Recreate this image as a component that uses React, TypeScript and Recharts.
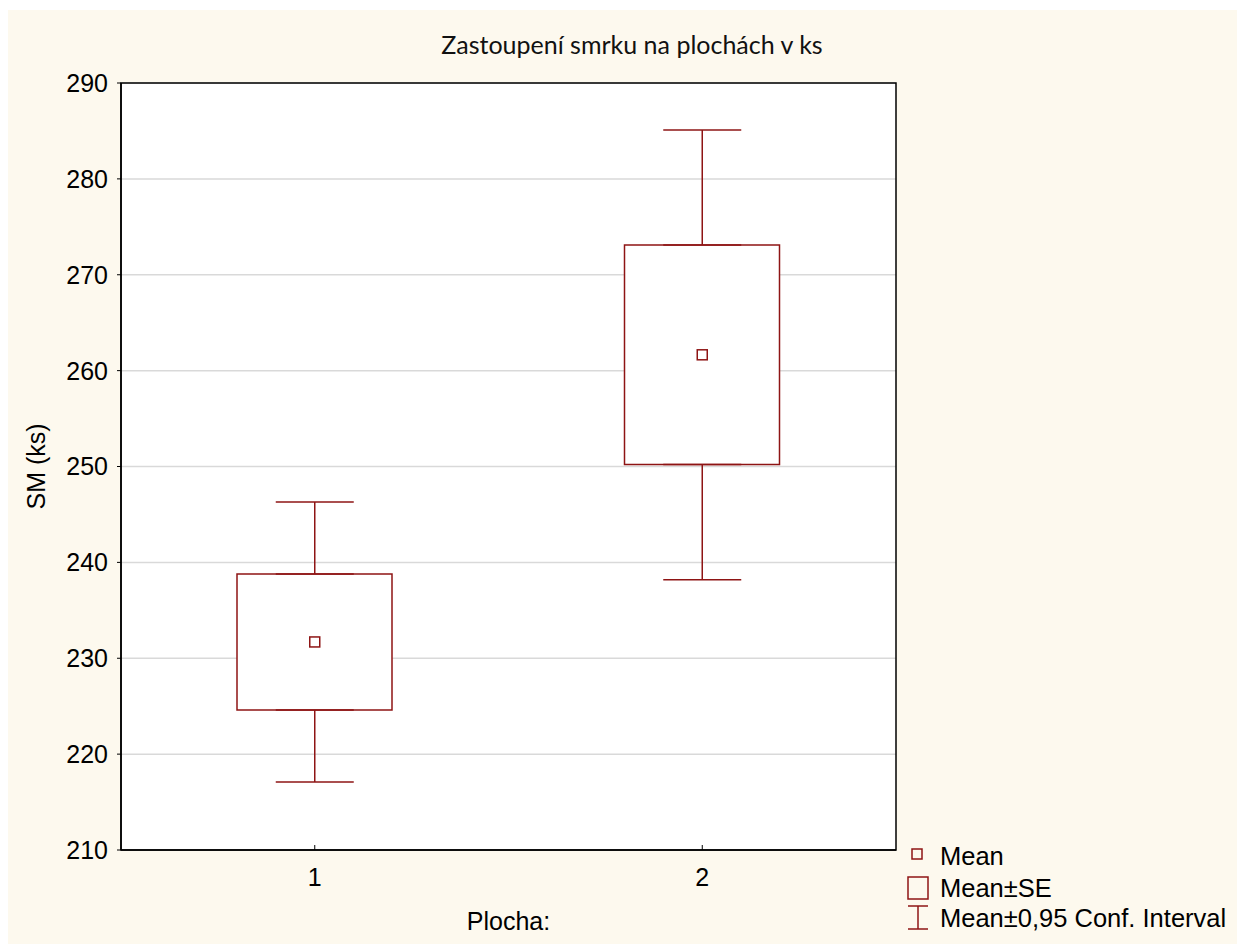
import { ComposedChart, Bar, Scatter, ErrorBar, XAxis, YAxis, CartesianGrid, ReferenceArea } from 'recharts';

const groups = ['1', '2'];
const means = [231.7, 261.65];
const seLow = [224.6, 250.2];
const seHigh = [238.8, 273.1];
const ciLow = [217.1, 238.2];
const ciHigh = [246.3, 285.1];
const yTicks = [210, 220, 230, 240, 250, 260, 270, 280, 290];

const RED = '#8e1414';
const CREAM = '#fdf9ee';
const ARIAL = '"Liberation Sans", Arial, sans-serif';

const data = groups.map((g, i) => ({
  name: g,
  mean: means[i],
  se: [seLow[i], seHigh[i]],
  seTop: seHigh[i],
  seBottom: seLow[i],
  upWhisker: [0, ciHigh[i] - seHigh[i]],
  downWhisker: [seLow[i] - ciLow[i], 0],
}));

const MeanMarker = (props: any) => {
  const { cx, cy } = props;
  return <rect x={cx - 5} y={cy - 5} width={10} height={10} fill="#fff" stroke={RED} strokeWidth={1.5} />;
};

const Nothing = () => <g />;

export default function App() {
  return (
    <div style={{ position: 'relative', width: 1237, height: 934, marginTop: 2, background: CREAM }}>
      <ComposedChart width={1237} height={934} data={data} margin={{ top: 73, right: 349, bottom: 0, left: 0 }}>
        <CartesianGrid horizontal vertical={false} stroke="#d9d9d9" strokeWidth={1.5} fill="#fff" />
        <XAxis
          dataKey="name"
          height={94}
          axisLine={{ stroke: '#000', strokeWidth: 1.5 }}
          tickLine={{ stroke: '#000' }}
          tickSize={-5}
          tickMargin={23}
          tick={{ fill: '#000', fontSize: 25, fontFamily: ARIAL }}
          label={{
            content: (p: any) => (
              <text x={p.viewBox.x + p.viewBox.width / 2} y={p.viewBox.y + 80} textAnchor="middle"
                fontSize={25} fontFamily={ARIAL} fill="#000">Plocha:</text>
            ),
          }}
        />
        <YAxis
          width={113}
          domain={[210, 290]}
          ticks={yTicks}
          allowDataOverflow
          axisLine={{ stroke: '#000', strokeWidth: 1.5 }}
          tickLine={{ stroke: '#000' }}
          tickSize={4}
          tickMargin={9}
          tick={{ fill: '#000', fontSize: 25, fontFamily: ARIAL }}
          label={{
            content: (p: any) => {
              const x = p.viewBox.x + 37;
              const y = p.viewBox.y + p.viewBox.height / 2;
              return (
                <text x={x} y={y} transform={`rotate(-90 ${x} ${y})`} textAnchor="middle"
                  fontSize={25} fontFamily={ARIAL} fill="#000">SM (ks)</text>
              );
            },
          }}
        />
        <Bar dataKey="se" barSize={155} fill="#fff" stroke={RED} strokeWidth={1.5} isAnimationActive={false} />
        <Scatter dataKey="seTop" shape={Nothing} isAnimationActive={false}>
          <ErrorBar dataKey="upWhisker" direction="y" width={39} stroke={RED} strokeWidth={1.5} isAnimationActive={false} />
        </Scatter>
        <Scatter dataKey="seBottom" shape={Nothing} isAnimationActive={false}>
          <ErrorBar dataKey="downWhisker" direction="y" width={39} stroke={RED} strokeWidth={1.5} isAnimationActive={false} />
        </Scatter>
        <Scatter dataKey="mean" shape={MeanMarker} isAnimationActive={false} />
        {/* plot frame */}
        <ReferenceArea y1={210} y2={290} fill="none" fillOpacity={0} stroke="#000" strokeWidth={1.5} strokeOpacity={1} ifOverflow="visible" />
      </ComposedChart>

      <svg width={1237} height={934} style={{ position: 'absolute', left: 0, top: 0, pointerEvents: 'none' }}>
        <text x={624} y={44} textAnchor="middle" fontSize={25} fontFamily="Lato, 'Open Sans', sans-serif" fill="#111">
          Zastoupení smrku na plochách v ks
        </text>
        <g transform="translate(898, 834)" fontFamily={ARIAL} fontSize={25.5} fill="#000">
          <rect x={6} y={5} width={10} height={10} fill="none" stroke={RED} strokeWidth={1.5} />
          <text x={34} y={21}>Mean</text>
          <rect x={2} y={33} width={20} height={22} fill="none" stroke={RED} strokeWidth={1.5} />
          <text x={34} y={53}>Mean±SE</text>
          <line x1={2} y1={62} x2={22} y2={62} stroke={RED} strokeWidth={1.5} />
          <line x1={12} y1={62} x2={12} y2={85} stroke={RED} strokeWidth={1.5} />
          <line x1={2} y1={85} x2={22} y2={85} stroke={RED} strokeWidth={1.5} />
          <text x={34} y={83}>Mean±0,95 Conf. Interval</text>
        </g>
      </svg>
    </div>
  );
}
